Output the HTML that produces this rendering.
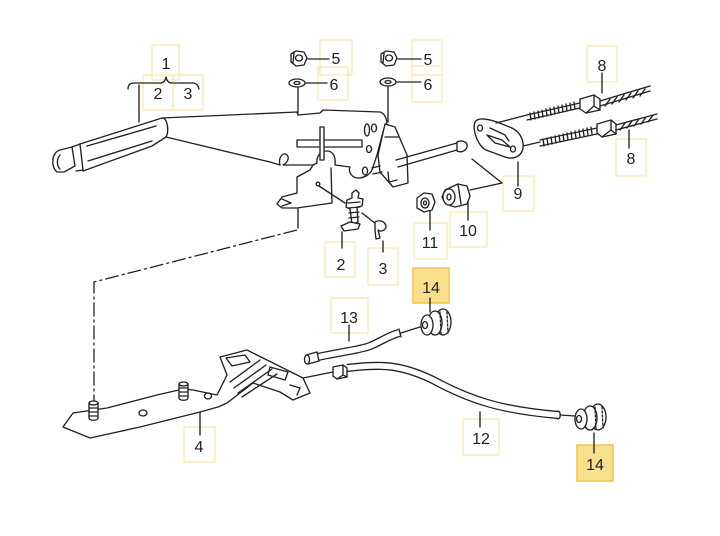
<!DOCTYPE html>
<html><head><meta charset="utf-8">
<style>
html,body{margin:0;padding:0;background:#fff;}
svg{display:block;}
text{font-family:"Liberation Sans",sans-serif;font-size:16px;fill:#222;text-anchor:middle;}
.b{fill:none;stroke:#f9e7ad;stroke-width:1.2;}
.f{fill:#f8df8c;stroke:#f0c64a;stroke-width:1.5;}
.l{fill:none;stroke:#222;stroke-width:1.35;stroke-linejoin:round;stroke-linecap:round;}
.w{fill:#fff;stroke:#222;stroke-width:1.35;stroke-linejoin:round;}
</style></head><body>
<svg width="720" height="536" viewBox="0 0 720 536" xmlns="http://www.w3.org/2000/svg">
<rect width="720" height="536" fill="#fff"/>

<!-- label boxes -->
<rect class="b" x="152" y="45" width="27" height="35"/>
<rect class="b" x="143" y="75" width="30" height="35"/>
<rect class="b" x="173" y="75" width="30" height="35"/>
<rect class="b" x="320" y="40" width="32" height="35"/>
<rect class="b" x="318" y="67" width="30" height="33"/>
<rect class="b" x="412" y="40" width="30" height="35"/>
<rect class="b" x="412" y="66" width="30" height="36"/>
<rect class="b" x="587" y="46" width="30" height="36"/>
<rect class="b" x="616" y="139" width="30" height="37"/>
<rect class="b" x="503" y="176" width="31" height="35"/>
<rect class="b" x="450" y="212" width="37" height="35"/>
<rect class="b" x="414" y="223" width="33" height="36"/>
<rect class="b" x="325" y="242" width="30" height="35"/>
<rect class="b" x="368" y="248" width="30" height="37"/>
<rect class="f" x="413" y="268" width="36" height="35"/>
<rect class="b" x="331" y="298" width="37" height="35"/>
<rect class="b" x="184" y="427" width="31" height="35"/>
<rect class="b" x="463" y="419" width="36" height="36"/>
<rect class="f" x="577" y="445" width="36" height="36"/>

<!-- label texts -->
<text x="166" y="69">1</text>
<text x="158" y="99">2</text>
<text x="188" y="99">3</text>
<text x="336" y="64">5</text>
<text x="334" y="90">6</text>
<text x="428" y="65">5</text>
<text x="428" y="90">6</text>
<text x="602" y="71">8</text>
<text x="631" y="164">8</text>
<text x="518" y="199">9</text>
<text x="468" y="236">10</text>
<text x="430" y="248">11</text>
<text x="341" y="270">2</text>
<text x="383" y="274">3</text>
<text x="431" y="293">14</text>
<text x="349" y="323">13</text>
<text x="199" y="452">4</text>
<text x="481" y="444">12</text>
<text x="595" y="470">14</text>

<!-- leader lines -->
<g class="l">
<path d="M128,89 Q128,83 134,83 L160,83 Q165,83 166,77 Q167,83 172,83 L194,83 Q198,84 199,89"/>
<path d="M139,85 L139,122"/>
<path d="M308,59 L329,59 M306,83 L327,83 M298,88 L298,113"/>
<path d="M398,59 L421,59 M397,82 L421,82 M388,87 L388,122"/>
<path d="M602,73 L602,93 M629,130 L629,148"/>
<path d="M518,162 L518,186 M472,159 L502,183 L470,190"/>
<path d="M468,198 L468,220 M430,207 L430,230"/>
<path d="M342,232 L342,248 M383,241 L383,252"/>
<path d="M430,298 L430,312 M349,325 L349,341 M480,412 L480,427 M594,433 L594,453 M200,413 L200,435"/>
</g>

<!-- nuts & washers top -->
<g class="l">
<path class="w" d="M291,54 L296,51 L304,52 L307,58 L304,65 L296,66 L291,62 Z"/>
<ellipse cx="299" cy="58" rx="3.5" ry="3"/>
<path d="M294,53 L293,63"/>
<ellipse class="w" cx="297" cy="83" rx="8" ry="4"/>
<ellipse cx="297" cy="83" rx="3" ry="1.5"/>
<path class="w" d="M381,54 L386,51 L394,52 L397,58 L394,65 L386,66 L381,62 Z"/>
<ellipse cx="389" cy="58" rx="3.5" ry="3"/>
<path d="M384,53 L383,63"/>
<ellipse class="w" cx="388" cy="82" rx="8" ry="4"/>
<ellipse cx="388" cy="82" rx="3" ry="1.5"/>
</g>

<!-- handle -->
<g class="l">
<path d="M57,172 C50,166 52,152 60,150 L72,147 L75,166 L64,172 Z"/>
<path d="M60,155 C56,160 57,166 60,169"/>
<path d="M72,147 L80,144 L83,170 L76,171"/>
<path d="M80,144 L162,118 C168,118 169,132 166,137 L152,146 L83,171"/>
<path d="M87,146 L156,126 M88,161 L152,141"/>
<path d="M162,118 L297,112 L298,115 L320,113 L323,110 L380,112 C384,113 386,117 387,122"/>
<path d="M166,137 L270,162"/>
</g>

<!-- lever mechanism plate -->
<g class="l">
<path d="M270,162 L280,165 C278,158 283,151 287,155 C290,158 287,163 283,165 L313,165 L317,163 C316,155 322,151 327,151 C333,151 336,157 335,165 L350,167 C348,172 352,178 358,178 C365,178 370,174 372,170 L377,155 L383,132 L387,122"/>
<path d="M297,140 L362,140 L362,147 L297,147 Z" fill="#fff"/>
<path d="M320,127 L324,127 L324,160 L320,160 Z" fill="#fff"/>
<ellipse cx="367" cy="130" rx="2.5" ry="6"/>
<ellipse cx="374" cy="128" rx="2.5" ry="4"/>
<ellipse cx="369" cy="149" rx="2.5" ry="3.5"/>
<ellipse cx="365" cy="171" rx="2.5" ry="4"/>
<path class="w" d="M385,124 L395,127 L407,155 L408,183 L393,187 L380,172 L378,155 Z"/>
<path d="M385,137 L398,137"/>
<path d="M388,172 L389,182 L397,180"/>
<path d="M396,160 L457,143 M398,167 L457,150"/>
<path d="M372,168 L380,166 M373,174 L382,172"/>
<path d="M457,142 C463,139 468,143 467,147 C466,151 461,153 457,151 Z" fill="#fff"/>
<!-- lower bracket -->
<path d="M313,165 L310,170 L297,177 L297,193 L282,197 L277,204 L282,208 L297,208 L332,203 L331,168"/>
<path d="M282,199 L291,203 L282,206"/>
<circle cx="318" cy="184" r="1.8"/>
<path d="M319,186 L345,203"/>
<path d="M298,208 L298,228"/>
</g>
<path d="M297,230 L94,282 L94,403" fill="none" stroke="#222" stroke-width="1.3" stroke-dasharray="14,3,3,3"/>

<!-- part 2 spring bolt & part 3 pin -->
<g class="l">
<path class="w" d="M352,193 L356,190 L359,193 L358,198 L363,199 L362,206 L357,207 L358,222 L352,224 L350,209 L346,207 L347,200 L352,198 Z"/>
<path d="M348,203 L360,202 M348,208 L360,207 M349,213 L359,212 M349,218 L359,217"/>
<path d="M341,226 L350,222 L360,224 L358,229 L344,231 Z" fill="#fff"/>
<path d="M362,213 L376,224"/>
<path class="w" d="M375,222 C380,219 386,222 386,227 C385,231 380,232 378,230 L380,238 L376,239 L375,230 Z"/>
</g>

<!-- part 9 plate and cables 8 -->
<g class="l">
<path class="w" d="M475,122 C478,117 488,119 497,122 L512,128 C520,132 524,140 523,148 C522,156 514,160 505,157 L486,150 C478,146 472,130 475,122 Z"/>
<ellipse cx="480" cy="128" rx="2.5" ry="3"/>
<ellipse cx="513" cy="149" rx="2.5" ry="3"/>
<path d="M487,135 L502,140 L510,147 L495,143 Z"/>
<path d="M490,128 L505,135 L509,141"/>
<path d="M496,123 L527,115 M523,146 L540,142"/>
<path d="M527,115 L580,103 M527,120 L580,108" />
<path d="M530,113 L531,120 M534,112 L535,119 M538,111 L539,118 M542,110 L543,117 M546,109 L547,116 M550,108 L551,115 M554,107 L555,114 M558,106 L559,113 M562,105 L563,112 M566,104 L567,111 M570,103 L571,110 M574,102 L575,109"/>
<path d="M540,140 L597,128 M540,146 L597,134"/>
<path d="M543,139 L544,146 M547,138 L548,145 M551,137 L552,144 M555,136 L556,143 M559,135 L560,142 M563,134 L564,141 M567,133 L568,140 M571,132 L572,139 M575,131 L576,138 M579,130 L580,137 M583,129 L584,136 M587,128 L588,135 M591,127 L592,134"/>
<path class="w" d="M580,99 L594,95 L600,99 L600,110 L586,113 L580,109 Z"/>
<path d="M594,95 L594,106 L586,113 M594,106 L600,110"/>
<path class="w" d="M597,124 L611,120 L616,124 L616,134 L602,137 L597,133 Z"/>
<path d="M611,120 L611,130 L602,137 M611,130 L616,134"/>
<path d="M600,101 L650,86 M600,106 L650,91"/>
<path d="M605,106 L610,99 M612,104 L617,97 M619,102 L624,95 M626,100 L631,93 M633,98 L638,91 M640,96 L645,89"/>
<path d="M616,125 L657,114 M616,130 L657,119"/>
<path d="M620,130 L625,123 M627,128 L632,121 M634,126 L639,119 M641,124 L646,117 M648,122 L653,115"/>
</g>

<!-- nut 10 and 11 -->
<g class="l">
<path class="w" d="M445,190 L458,184 L467,186 L470,196 L467,204 L455,207 L446,204 L442,197 Z"/>
<ellipse cx="449" cy="197" rx="6" ry="8" fill="#fff"/>
<ellipse cx="449" cy="197" rx="2" ry="3"/>
<path d="M458,184 L461,204"/>
<path class="w" d="M417,198 L424,193 L432,194 L435,202 L432,210 L424,212 L417,208 Z"/>
<ellipse cx="425" cy="203" rx="4" ry="5"/>
<ellipse cx="425" cy="203" rx="1.5" ry="2"/>
</g>

<!-- part 4 floor bracket -->
<g class="l">
<path class="w" d="M63,427 L73,413 L107,408 L157,395 L183,389 L193,390 L217,395 L227,375 L220,357 L247,350 L267,360 L303,378 L310,393 L293,400 L280,392 L253,383 L227,403 L218,407 L200,412 L140,427 L90,438 Z"/>
<path d="M230,382 L260,360 M234,388 L266,365 M238,393 L272,369 M242,397 L277,374"/>
<path d="M226,358 L245,355 L250,362 L232,366 Z"/>
<path d="M270,367 L288,372 L285,380 L268,375 Z"/>
<path d="M290,385 L300,388 L297,395"/>
<ellipse cx="143" cy="413" rx="4" ry="3"/>
<ellipse cx="208" cy="396" rx="3.5" ry="3"/>
<path class="w" d="M89,403 L89,418 C89,421 98,421 98,418 L98,403 Z"/>
<ellipse class="w" cx="93.5" cy="403" rx="4.5" ry="2"/>
<path d="M89,408 L98,408 M89,412 L98,412 M89,416 L98,416"/>
<path class="w" d="M179,384 L179,398 C179,401 188,401 188,398 L188,384 Z"/>
<ellipse class="w" cx="183.5" cy="384" rx="4.5" ry="2"/>
<path d="M179,388 L188,388 M179,392 L188,392 M179,396 L188,396"/>
<path d="M303,378 L333,372"/>
</g>

<!-- cable 13 -->
<path d="M318,357 C340,352 360,350 370,346 C380,342 388,336 399,333" fill="none" stroke="#222" stroke-width="8.2" stroke-linecap="butt"/>
<path d="M318,357 C340,352 360,350 370,346 C380,342 388,336 399,333" fill="none" stroke="#fff" stroke-width="5.6" stroke-linecap="butt"/>
<g class="l">
<path class="w" d="M306,355 L317,352 L319,361 L308,364 Z"/>
<ellipse class="w" cx="307" cy="359.5" rx="2.5" ry="4.5"/>
<path d="M399,329 L401,337"/>
<path d="M401,333 L420,327"/>
</g>

<!-- cable 12 -->
<path d="M347,368 C380,364 400,364 433,380 C470,400 500,410 558,415" fill="none" stroke="#222" stroke-width="8.2"/>
<path d="M347,368 C380,364 400,364 433,380 C470,400 500,410 558,415" fill="none" stroke="#fff" stroke-width="5.6"/>
<g class="l">
<path class="w" d="M333,367 L343,365 L347,368 L347,377 L337,379 L333,376 Z"/>
<path d="M343,365 L343,375 L337,379 M343,375 L347,377"/>
<path d="M558,411 C561,412 561,418 558,419"/>
<path d="M560,415 L575,416"/>
</g>

<!-- grommets 14 -->
<g class="l">
<ellipse class="w" cx="443" cy="322" rx="8" ry="13"/>
<ellipse class="w" cx="435" cy="323" rx="7" ry="12"/>
<ellipse class="w" cx="427" cy="325" rx="6" ry="10"/>
<ellipse cx="425" cy="325" rx="2.5" ry="3.5"/>
<path d="M440,312 L441,334 M447,312 L448,333" stroke-dasharray="2,2"/>
<ellipse class="w" cx="598" cy="417" rx="8" ry="13"/>
<ellipse class="w" cx="590" cy="418" rx="7" ry="12"/>
<ellipse class="w" cx="581" cy="419" rx="6" ry="10"/>
<ellipse cx="579" cy="419" rx="2.5" ry="3.5"/>
<path d="M595,407 L596,429 M602,407 L603,428" stroke-dasharray="2,2"/>
</g>
</svg>
</body></html>
